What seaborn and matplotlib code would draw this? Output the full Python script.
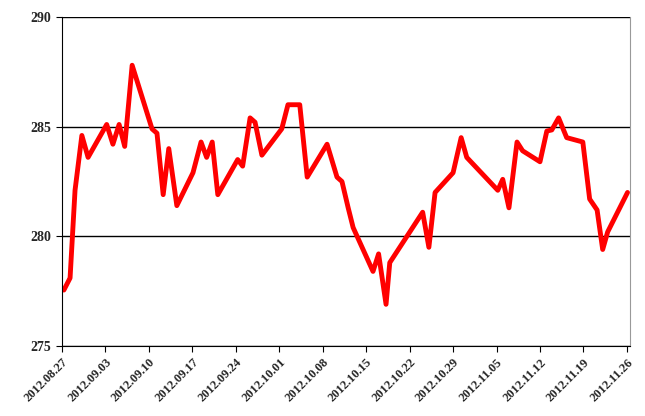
import matplotlib
matplotlib.use("Agg")
import matplotlib.pyplot as plt
import seaborn as sns
import pandas as pd

# days since 2012-08-27 and index values
days = [0.3, 1.3, 2.1, 3.2, 4.2, 7.2, 8.2, 9.2, 10.1, 11.3, 14.5, 15.3, 16.3, 17.2,
        18.5, 21.1, 22.4, 23.3, 24.2, 25.1, 28.3, 29.1, 30.3, 31.1, 32.2, 35.4, 36.4,
        38.3, 39.5, 42.7, 44.3, 45.1, 46.1, 46.9, 50.1, 51.0, 52.2, 52.8, 58.1, 59.1,
        60.1, 63.0, 64.3, 65.2, 70.2, 71.0, 72.0, 73.3, 74.2, 77.0, 78.1, 78.9, 80.0,
        81.3, 83.9, 85.0, 86.2, 87.1, 87.9, 91.1]
values = [277.55, 278.1, 282.1, 284.6, 283.6, 285.1, 284.2, 285.1, 284.1, 287.8, 284.9,
          284.7, 281.9, 284.0, 281.4, 282.9, 284.3, 283.6, 284.3, 281.9, 283.5, 283.2,
          285.4, 285.2, 283.7, 284.9, 286.0, 286.0, 282.7, 284.2, 282.7, 282.5, 281.3,
          280.4, 278.4, 279.2, 276.9, 278.8, 281.1, 279.5, 282.0, 282.9, 284.5, 283.6,
          282.1, 282.6, 281.3, 284.3, 283.9, 283.4, 284.8, 284.85, 285.4, 284.5, 284.3,
          281.7, 281.2, 279.4, 280.2, 282.0]
tick_days = [0, 7, 14, 21, 28, 35, 42, 49, 56, 63, 70, 77, 84, 91]
tick_labels = ["2012.08.27", "2012.09.03", "2012.09.10", "2012.09.17", "2012.09.24",
               "2012.10.01", "2012.10.08", "2012.10.15", "2012.10.22", "2012.10.29",
               "2012.11.05", "2012.11.12", "2012.11.19", "2012.11.26"]

df = pd.DataFrame({"day": days, "value": values})

sns.set_style("white")
plt.rcParams["font.family"] = ["Liberation Serif", "DejaVu Serif"]

fig = plt.figure(figsize=(6.45, 4.16), dpi=100)
ax = fig.add_axes([62/645, 1-346/416, (630-62)/645, (346-17)/416])

sns.lineplot(data=df, x="day", y="value", ax=ax, color="#ff0000", linewidth=3.5)

ax.set_xlim(0, 91.5)
ax.set_ylim(275, 290)
ax.set_yticks([275, 280, 285, 290])
ax.set_xticks(tick_days)
ax.set_xticklabels(tick_labels, rotation=45, ha="right", rotation_mode="anchor",
                   fontsize=9, fontweight="bold")
for t in ax.get_yticklabels():
    t.set_fontweight("bold")
    t.set_fontsize(10)
ax.set_xlabel("")
ax.set_ylabel("")
ax.yaxis.grid(True, color="black", linewidth=1)
ax.set_axisbelow(True)
ax.tick_params(axis="y", left=True, length=4, color="black")
ax.tick_params(axis="x", bottom=True, length=4, color="black")
ax.spines["top"].set_visible(False)
ax.spines["left"].set_color("black")
ax.spines["bottom"].set_color("black")
ax.spines["right"].set_color("#999999")

fig.savefig("out.png", dpi=100)
